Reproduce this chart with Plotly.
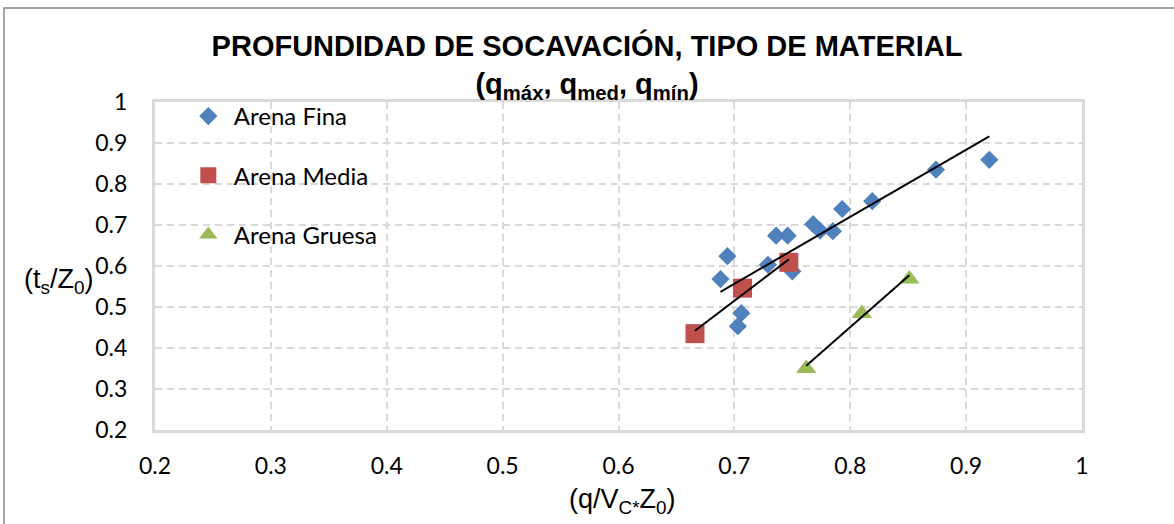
import numpy as np
import plotly.graph_objects as go

# ---- data ----
fina_x = [0.694, 0.688, 0.729, 0.750, 0.706, 0.703, 0.736, 0.746, 0.768, 0.774, 0.785, 0.793, 0.819, 0.874, 0.920]
fina_y = [0.624, 0.568, 0.603, 0.587, 0.485, 0.453, 0.674, 0.674, 0.702, 0.686, 0.685, 0.739, 0.758, 0.835, 0.859]

media_x = [0.666, 0.707, 0.747]
media_y = [0.435, 0.546, 0.609]

gruesa_x = [0.762, 0.810, 0.851]
gruesa_y = [0.350, 0.484, 0.568]

# linear trendline coefficients read from the drawn trendlines (y = m*x + b)
trend_slope = [1.635, 2.150, 2.481]
trend_intercept = [-0.588, -0.990, -1.534]

series_names = ["Arena Fina", "Arena Media", "Arena Gruesa"]
series_colors = ["#4F81BD", "#C0504D", "#9BBB59"]
series_symbols = ["diamond", "square", "triangle-up"]
series_sizes = [14, 19, 18]

axis_ticks = [0.2, 0.3, 0.4, 0.5, 0.6, 0.7, 0.8, 0.9, 1.0]
axis_ticktext = ["0.2", "0.3", "0.4", "0.5", "0.6", "0.7", "0.8", "0.9", "1"]

# ---- figure geometry (pixels) ----
W, H = 1174, 524
ML, MR, MT, MB = 155, 92, 102, 94
PW, PH = W - ML - MR, H - MT - MB

fig = go.Figure()

all_series = [(fina_x, fina_y), (media_x, media_y), (gruesa_x, gruesa_y)]
for i, (xs, ys) in enumerate(all_series):
    fig.add_trace(go.Scatter(
        x=xs, y=ys, mode="markers", name=series_names[i],
        legendgroup=series_names[i],
        marker=dict(symbol=series_symbols[i], size=series_sizes[i],
                    color=series_colors[i], line=dict(width=0)),
    ))

# trendlines spanning each series' x extent
for i, (xs, ys) in enumerate(all_series):
    xs_a = np.array(xs)
    tx = np.array([xs_a.min(), xs_a.max()])
    fig.add_trace(go.Scatter(
        x=tx, y=trend_slope[i] * tx + trend_intercept[i], mode="lines",
        showlegend=False, hoverinfo="skip", line=dict(color="black", width=2),
    ))

grid = dict(showgrid=True, gridcolor="#D9D9D9", gridwidth=1.5, griddash="7px,5px",
            showline=True, linecolor="#D9D9D9", linewidth=3, mirror=True,
            zeroline=False, tickvals=axis_ticks, ticktext=axis_ticktext,
            ticks="outside", tickcolor="rgba(0,0,0,0)",
            tickfont=dict(family="Lato", size=23, color="black"))

fig.update_layout(
    width=W, height=H,
    margin=dict(l=ML, r=MR, t=MT, b=MB),
    paper_bgcolor="white", plot_bgcolor="white",
    xaxis=dict(range=[0.2, 1.0], ticklen=13, **grid),
    yaxis=dict(range=[0.2, 1.0], ticklen=20, **grid),
    showlegend=True,
    legend=dict(x=0.03, y=1.0 + 8 / PH, xanchor="left", yanchor="top",
                bgcolor="rgba(0,0,0,0)", tracegroupgap=25, itemwidth=41,
                font=dict(family="Lato", size=24, color="black")),
    title=dict(
        text="PROFUNDIDAD DE SOCAVACIÓN, TIPO DE MATERIAL<br>(q<sub>máx</sub>, q<sub>med</sub>, q<sub>mín</sub>)",
        x=0.5, xanchor="center", xref="container", yref="container",
        y=1 - 56 / H, yanchor="top",
        font=dict(family="Liberation Sans", size=29, color="black", weight="bold"),
    ),
)

# axis titles as annotations
fig.add_annotation(text="(t<sub>s</sub>/Z<sub>0</sub>)", xref="paper", yref="paper",
                   x=(58 - ML) / PW, y=1 - (281 - MT) / PH, showarrow=False,
                   xanchor="center", yanchor="middle",
                   font=dict(family="Liberation Sans", size=27, color="black"))
fig.add_annotation(text="(q/V<sub>C*</sub>Z<sub>0</sub>)", xref="paper", yref="paper",
                   x=(622 - ML) / PW, y=-(501 - MT - PH) / PH, showarrow=False,
                   xanchor="center", yanchor="middle",
                   font=dict(family="Liberation Sans", size=27, color="black"))

# outer chart border
fig.add_shape(type="rect", xref="paper", yref="paper",
              x0=(4 - ML) / PW, x1=(W + 10 - ML) / PW,
              y0=-(H + 10 - MT - PH) / PH, y1=1 + (MT - 8) / PH,
              line=dict(color="#888888", width=1.5), fillcolor="rgba(0,0,0,0)", layer="above")

fig.write_html("out.html", config={"displayModeBar": False},
               post_script="document.body.style.margin='0';")
